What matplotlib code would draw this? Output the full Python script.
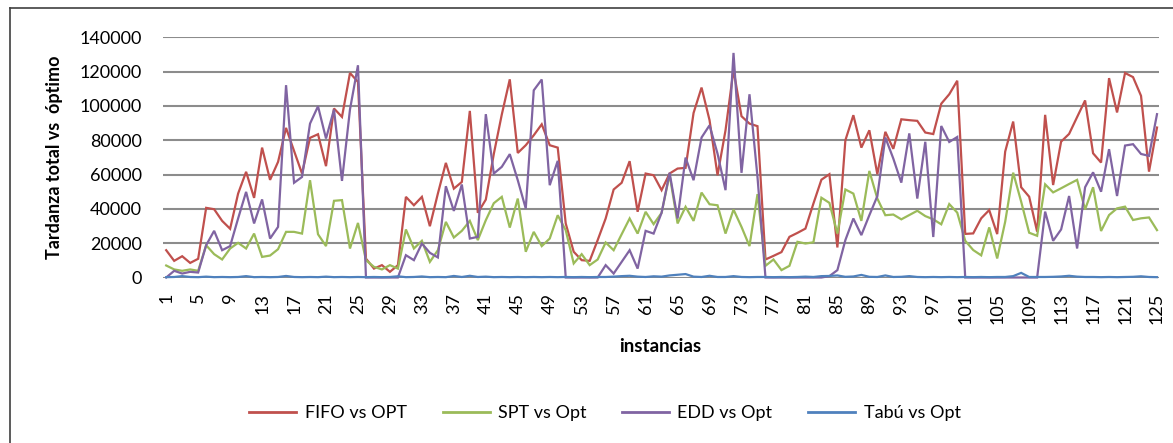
import matplotlib
matplotlib.use("Agg")
import matplotlib.pyplot as plt
from matplotlib.lines import Line2D
import numpy as np

plt.rcParams['font.family'] = ['Lato', 'DejaVu Sans']

instancias = list(range(1, 126))

fifo = [15900, 9700, 12400, 8500, 10900, 40600, 39800, 33000, 28400, 48900,
        61600, 46400, 75700, 56900, 67400, 87200, 73800, 60600, 81400, 83500,
        64900, 98500, 93600, 119200, 114000, 11000, 5200, 7200, 3300, 7200,
        47000, 42100, 47000, 29900, 48900, 66800, 51800, 55700, 97100, 37700,
        45400, 72000, 95000, 115500, 72600, 77100, 82900, 89300, 77100, 75700,
        31500, 15000, 10100, 9700, 21800, 34400, 51300, 55200, 67800, 38300,
        60600, 59600, 50900, 60600, 63500, 63900, 95900, 110700, 91700, 59600,
        85800, 121000, 94000, 89700, 88200, 10500, 12600, 14800, 23700, 26000,
        28500, 43100, 57000, 60200, 17500, 80000, 94600, 75700, 85800, 60200,
        84900, 75000, 92200, 91700, 91300, 84500, 83600, 101300, 106800, 114700,
        25400, 25700, 34500, 39300, 25300, 73400, 90900, 52600, 47100, 26700,
        94800, 53900, 79200, 83700, 93500, 103200, 72400, 67000, 116200, 96200,
        119200, 116800, 105900, 61700, 87400]

spt = [7000, 4700, 3900, 4700, 3900, 18800, 13600, 10500, 16900, 20200,
       16900, 25600, 12000, 12800, 16500, 26600, 26600, 25600, 56700, 25200,
       18300, 44700, 45100, 16900, 31800, 10100, 6200, 4700, 7200, 5200,
       28000, 16900, 21400, 9100, 15900, 32400, 23300, 27200, 33000, 21800,
       33400, 43300, 47000, 29100, 46000, 15000, 26600, 18300, 22700, 36300,
       27600, 8200, 13600, 7200, 10500, 20400, 15900, 25200, 34400, 25600,
       38300, 31100, 37700, 60000, 31500, 41200, 33000, 49500, 42700, 42100,
       25600, 39600, 29500, 18300, 48600, 6800, 10500, 4300, 6800, 20800,
       19800, 20500, 46500, 43500, 25600, 51300, 48900, 33000, 62100, 46000,
       36300, 36700, 33900, 36400, 38900, 35800, 33900, 31000, 42800, 37800,
       21400, 16000, 12900, 29200, 11100, 32500, 61100, 44200, 26100, 24300,
       54300, 49600, 52000, 54500, 56900, 39700, 52600, 27100, 36400, 40300,
       41300, 33500, 34500, 35000, 27600]

edd = [0, 3900, 2300, 3300, 2900, 18800, 27200, 15900, 18300, 34400,
       49900, 31500, 45500, 22700, 29500, 112100, 55200, 58600, 89700, 99800,
       81000, 97900, 56300, 97900, 123700, 0, 0, 0, 0, 0,
       13000, 10100, 19800, 14400, 11700, 53200, 38800, 54200, 22700, 23700,
       95200, 60600, 64500, 71900, 56700, 40200, 109100, 115400, 53800, 68000,
       0, 0, 0, 0, 0, 7200, 2300, 9100, 15900, 5200,
       27200, 25600, 37700, 61000, 34400, 69900, 56700, 81600, 88700, 72200,
       50900, 130900, 61000, 106800, 58600, 0, 0, 0, 0, 0,
       0, 0, 0, 800, 4300, 21800, 34400, 24700, 36300, 47400,
       81600, 69300, 55300, 84000, 46000, 79100, 23600, 88300, 79000, 81900,
       0, 0, 0, 0, 0, 0, 0, 0, 0, 0,
       38400, 21400, 28000, 47500, 16900, 52600, 61300, 50000, 74800, 47500,
       76900, 77700, 72000, 70900, 95200]

tabu = [200, 300, 800, 300, 200, 500, 200, 300, 200, 300,
        800, 200, 300, 200, 300, 900, 300, 200, 300, 200,
        500, 200, 300, 200, 300, 200, 300, 200, 300, 700,
        200, 300, 600, 200, 300, 200, 900, 300, 1000, 300,
        500, 200, 300, 200, 300, 200, 300, 200, 300, 200,
        300, 200, 300, 200, 300, 300, 500, 800, 1000, 500,
        300, 700, 500, 1200, 1600, 2000, 500, 300, 1000, 300,
        300, 800, 300, 200, 300, 300, 200, 300, 200, 300,
        500, 300, 800, 900, 1200, 400, 600, 1500, 400, 300,
        1200, 300, 400, 800, 300, 200, 300, 200, 300, 200,
        300, 200, 300, 200, 300, 300, 800, 2700, 300, 300,
        300, 400, 600, 1000, 500, 300, 300, 200, 300, 200,
        300, 400, 700, 300, 200]

series_names = ["FIFO vs OPT", "SPT vs Opt", "EDD vs Opt", "Tabú vs Opt"]
colors = ["#C0504D", "#9BBB59", "#8064A2", "#4F81BD"]
yticks = [0, 20000, 40000, 60000, 80000, 100000, 120000, 140000]
xtick_labels = list(range(1, 126, 4))

W, H = 1173, 443
fig = plt.figure(figsize=(W / 100, H / 100), dpi=100)
fig.patch.set_facecolor("white")

# chart-area border (cut off at right and bottom)
fig.add_artist(Line2D([10 / W, 10 / W], [0, 1 - 8 / H], color="#404040", lw=1.2))
fig.add_artist(Line2D([10 / W, 1], [1 - 8 / H, 1 - 8 / H], color="#404040", lw=1.2))

ax = fig.add_axes([163 / W, 1 - 277.5 / H, 996 / W, 240.2 / H])
ax.set_xlim(0.6, 125.25)
ax.set_ylim(0, 140000)

for yv in yticks:
    ax.axhline(yv, color="#8C8C8C", lw=1.5, zorder=1)

for data, name, c in zip([fifo, spt, edd, tabu], series_names, colors):
    ax.plot(instancias, data, color=c, lw=1.6, label=name, zorder=3,
            clip_on=False, solid_joinstyle="miter")

for s in ax.spines.values():
    s.set_visible(False)

ax.set_yticks(yticks)
ax.set_yticklabels([str(v) for v in yticks], fontsize=13)
ax.tick_params(axis="y", length=0, pad=15)
ax.set_xticks(xtick_labels)
ax.set_xticklabels([str(v) for v in xtick_labels], rotation=90, fontsize=13,
                   va="top", ha="center")
ax.tick_params(axis="x", length=0, pad=11)

fig.text(55 / W, 1 - 157 / H, "Tardanza total vs  óptimo", rotation=90,
         fontsize=13, fontweight="bold", ha="center", va="center")
fig.text(660 / W, 1 - 347 / H, "instancias", fontsize=13.5,
         fontweight="bold", ha="center", va="center")

handles, labels = ax.get_legend_handles_labels()
leg = fig.legend(handles, labels, loc="center", bbox_to_anchor=(605 / W, 1 - 413 / H),
                 ncol=4, frameon=False, fontsize=13, handlelength=2.6,
                 handletextpad=0.45, columnspacing=2.0)
for lh in leg.get_lines():
    lh.set_linewidth(2.0)

fig.savefig("out.png", dpi=100, facecolor="white")
